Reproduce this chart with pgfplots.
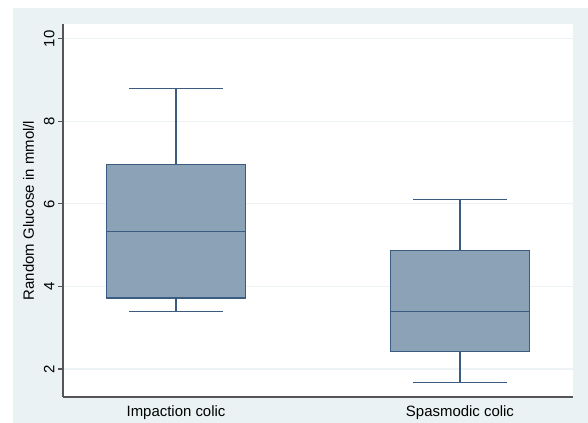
\documentclass[border=0pt]{standalone}
\usepackage{pgfplots}
\pgfplotsset{compat=1.18}
\usepgfplotslibrary{statistics}
\usepackage{fontspec}
\setmainfont{Liberation Sans}
\definecolor{bg}{HTML}{EAF2F3}
\definecolor{boxfill}{HTML}{8CA2B6}
\definecolor{boxline}{HTML}{3A5C80}
\definecolor{gridc}{HTML}{EDF3F4}
\definecolor{axisc}{HTML}{555555}
\begin{document}
\begin{tikzpicture}
\useasboundingbox (0bp,0bp) rectangle (588bp,423bp);
\fill[bg] (13bp,0bp) rectangle (588bp,415bp);
\begin{axis}[
  at={(63bp,26bp)}, anchor=south west, scale only axis,
  width=510bp, height=373bp,
  xmin=0.602, xmax=2.398, ymin=1.32, ymax=10.36,
  axis background/.style={fill=white},
  axis x line=bottom, axis y line=left,
  axis line style={axisc, line width=1.3bp, -},
  xtick={1,2}, xticklabels={Impaction colic, Spasmodic colic},
  x tick style={draw=none},
  ytick={2,4,6,8,10}, ymajorgrids,
  grid style={gridc, line width=1.2bp},
  tick align=outside, y tick style={axisc, line width=1.2bp},
  major tick length=5bp,
  yticklabel style={rotate=90, anchor=south},
  /pgf/number format/assume math mode=true,
  ylabel={Random Glucose in mmol/l},
  ylabel style={yshift=3bp},
  font=\fontsize{15}{18}\selectfont,
  tick label style={font=\fontsize{15}{18}\selectfont},
  label style={font=\fontsize{15}{18}\selectfont},
  boxplot/draw direction=y,
  boxplot/box extend=0.49,
  boxplot/whisker extend=0.33,
]
\addplot[boxplot prepared={draw position=1, lower whisker=3.39, lower quartile=3.72, median=5.34, upper quartile=6.96, upper whisker=8.79},
  fill=boxfill, draw=boxline, line width=1.2bp, solid] coordinates {};
\addplot[boxplot prepared={draw position=2, lower whisker=1.68, lower quartile=2.42, median=3.39, upper quartile=4.88, upper whisker=6.10},
  fill=boxfill, draw=boxline, line width=1.2bp, solid] coordinates {};
\end{axis}
\end{tikzpicture}
\end{document}
